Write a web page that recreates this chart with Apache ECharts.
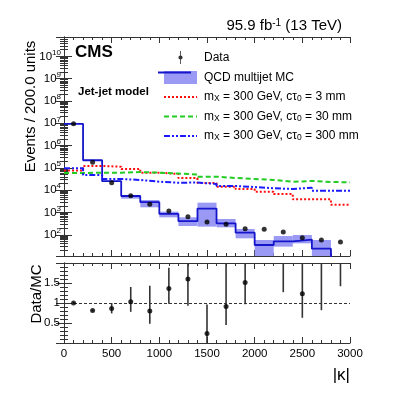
<!DOCTYPE html>
<html><head><meta charset="utf-8">
<script src="https://cdn.jsdelivr.net/npm/echarts@6/dist/echarts.min.js"></script>
<style>html,body{margin:0;padding:0;background:#fff}#c{width:407px;height:396px}</style>
</head><body><div id="c"></div>
<script>
// ---- data ----
const binLow  = [0,200,400,600,800,1000,1200,1400,1600,1800,2000,2200,2400,2600,2800];
const binHigh = [200,400,600,800,1000,1200,1400,1600,1800,2000,2200,2400,2600,2800,3000];
const binCenter = [100,300,500,700,900,1100,1300,1500,1700,1900,2100,2300,2500,2700,2900];
const dataEvents = [9.5e6,1.78e5,2.18e4,5690,2320,1167,650,370,295,188,176,134,74,58,48];
// last MC bin is empty (below the axis range)
const mcEvents = [9.5e6,2.2e5,2.55e4,5500,2900,860,410,1500,327,125,34.9,50.9,61,23.9,1];
const mcLow  = [9.1e6,2.12e5,2.45e4,4170,1706,607,248,232,216,69.5,1,29.4,41.4,1,1];
const mcHigh = [9.9e6,2.28e5,2.65e4,5890,3640,1090,607,2760,511,182,58.5,88,98,58.5,1];
const sig3mm   = [7.6e4,1.22e5,1.13e5,8.9e4,6.1e4,5.3e4,3.5e4,2.1e4,1.44e4,1.13e4,8.6e3,6.8e3,3.9e3,3.9e3,2.2e3];
const sig30mm  = [5.9e4,6.1e4,6.1e4,6.5e4,6.1e4,5.6e4,5.06e4,4.03e4,3.52e4,3.18e4,2.87e4,2.4e4,2.59e4,2.33e4,2.26e4];
const sig300mm = [9.6e4,4.8e4,3.18e4,2.87e4,2.4e4,2.17e4,2.2e4,1.9e4,1.54e4,1.39e4,1.22e4,1.13e4,1.29e4,9.5e3,9.5e3];
const ratioVal = [1.0,0.81,0.86,1.03,0.80,1.36,1.60,0.24,0.91,1.51,5.0,2.6,1.23,2.4,8.0];
const ratioLo  = [0.98,0.79,0.74,0.78,0.48,0.98,0.93,0.0,0.45,0.97,3.0,1.27,0.63,0.82,1.42];
const ratioHi  = [1.02,0.83,1.0,1.40,1.43,1.88,2.5,0.96,2.5,2.5,8.0,4.0,2.5,4.0,15];
const legendNames = ['Data','QCD multijet MC','mX = 300 GeV, cτ0 = 3 mm','mX = 300 GeV, cτ0 = 30 mm','mX = 300 GeV, cτ0 = 300 mm'];

// ---- styles ----
const FF = 'Liberation Sans';
const mcColor = '#1515cc';
const bandColor = '#9a9af5';
const frame = '#333';

function stepData(vals){ const d = binLow.map((l,i)=>[l, vals[i]]); d.push([binHigh[binHigh.length-1], vals[vals.length-1]]); return d; }

function clampY(y, cs){ return Math.min(Math.max(y, cs.y), cs.y + cs.height); }

function bandItem(params, api){
  const cs = params.coordSys;
  const a = api.coord([api.value(0), api.value(3)]);
  const b = api.coord([api.value(1), api.value(2)]);
  const y1 = clampY(a[1], cs), y2 = clampY(b[1], cs);
  if (y2 - y1 <= 0) return null;
  return {type:'rect', shape:{x:a[0], y:y1, width:b[0]-a[0], height:y2-y1}, style:{fill:bandColor}};
}
function errItem(params, api){
  const cs = params.coordSys;
  const a = api.coord([api.value(0), api.value(2)]);
  const b = api.coord([api.value(0), api.value(1)]);
  if (a[1] > cs.y + cs.height || b[1] < cs.y) return null;
  const y1 = clampY(a[1], cs), y2 = clampY(b[1], cs);
  return {type:'line', shape:{x1:a[0], y1:y1, x2:a[0], y2:y2}, style:{stroke:'#333', lineWidth:1.6}};
}

const logMin = Math.pow(10, 1.049), logMax = Math.pow(10, 10.87);

function baseAxisX(grid, showLabel, pos){
  return {type:'value', gridIndex:grid, min:0, max:3000, interval:500, position:pos,
    axisLine:{show:true, onZero:false, lineStyle:{color:frame, width:1}},
    axisTick:{show:true, inside:true, length:6, lineStyle:{color:frame}},
    minorTick:{show:true, splitNumber:5, length:3, lineStyle:{color:frame}},
    splitLine:{show:false},
    axisLabel:{show:showLabel, color:'#000', fontFamily:FF, fontSize:11.5, margin:5,
      formatter:function(v){ return String(v); }}};
}
function logAxisY(grid, pos, showLabel){
  return {type:'log', gridIndex:grid, min:logMin, max:logMax, logBase:10, splitNumber:10, position:pos,
    axisLine:{show:true, lineStyle:{color:frame, width:1}},
    axisTick:{show:true, inside:true, length:8, lineStyle:{color:frame}},
    minorTick:{show:true, splitNumber:9, length:4, lineStyle:{color:frame}},
    splitLine:{show:false},
    axisLabel:{show:showLabel, showMinLabel:false, showMaxLabel:false, margin:3,
      formatter:function(v){ return '{b|10}{e|' + Math.round(Math.log10(v)) + '}'; },
      rich:{b:{fontFamily:FF, fontSize:11.5, color:'#000', lineHeight:16}, e:{fontFamily:FF, fontSize:8, color:'#000', lineHeight:8, verticalAlign:'top'}}}};
}
function ratioAxisY(grid, pos, showLabel){
  return {type:'value', gridIndex:grid, min:0, max:2, interval:0.5, position:pos,
    axisLine:{show:true, lineStyle:{color:frame, width:1}},
    axisTick:{show:true, inside:true, length:8, lineStyle:{color:frame}},
    minorTick:{show:true, splitNumber:5, length:4, lineStyle:{color:frame}},
    splitLine:{show:false},
    axisLabel:{show:showLabel, showMinLabel:false, showMaxLabel:false, margin:4, color:'#000', fontFamily:FF, fontSize:11.5,
      formatter:function(v){ return String(v); }}};
}

const yUp = logAxisY(0, 'left', true);
yUp.name = 'Events / 200.0 units';
yUp.nameLocation = 'middle';
yUp.nameGap = 26;
yUp.nameMoveOverlap = false;
yUp.nameTextStyle = {fontFamily:FF, fontSize:15, color:'#000', padding:[0,0,0,80]};

const yLow = ratioAxisY(1, 'left', true);
yLow.name = 'Data/MC';
yLow.nameLocation = 'middle';
yLow.nameGap = 20;
yLow.nameMoveOverlap = false;
yLow.nameTextStyle = {fontFamily:FF, fontSize:15, color:'#000', padding:[0,0,0,18]};

const xLow = baseAxisX(1, true, 'bottom');
xLow.name = '|κ|';
xLow.nameLocation = 'end';
xLow.nameGap = 0;
xLow.nameMoveOverlap = false;
xLow.nameTextStyle = {fontFamily:FF, fontSize:17, color:'#000', align:'right', verticalAlign:'top', padding:[24,0,0,0]};

const legendRich = {t:{fontFamily:FF, fontSize:12, color:'#000', lineHeight:13}, s:{fontFamily:FF, fontSize:8.5, color:'#000', lineHeight:8, verticalAlign:'bottom'}};
function legendFmt(name){
  const m = name.match(/^mX = 300 GeV, cτ0 = (\d+) mm$/);
  if (m) return '{t|m}{s|X}{t| = 300 GeV, cτ}{s|0}{t| = ' + m[1] + ' mm}';
  return '{t|' + name + '}';
}
const noSymbol = {opacity:0};

const chart = echarts.init(document.getElementById('c'), null, {renderer:'canvas'});
chart.setOption({
  animation:false,
  backgroundColor:'#fff',
  title:{text:'95.9 fb{sup|-1} (13 TeV)', right:65, top:18, padding:0,
    textStyle:{fontFamily:FF, fontSize:15, fontWeight:'normal', color:'#000',
      rich:{sup:{fontFamily:FF, fontSize:10, color:'#000', lineHeight:9, verticalAlign:'top'}}}},
  grid:[{left:64, right:57, top:37, height:219}, {left:64, right:57, top:263, height:80}],
  xAxis:[baseAxisX(0,false,'bottom'), baseAxisX(0,false,'top'), xLow, baseAxisX(1,false,'top')],
  yAxis:[yUp, logAxisY(0,'right',false), yLow, ratioAxisY(1,'right',false)],
  legend:{orient:'vertical', left:158, top:46, itemWidth:33, itemHeight:13, itemGap:7, selectedMode:false,
    symbolKeepAspect:true, formatter:legendFmt,
    textStyle:{fontFamily:FF, fontSize:12, color:'#000', padding:[0,0,0,2], rich:legendRich},
    data:[
      {name:legendNames[0], icon:'path://M2.1,0H2.9V13H2.1Z M4.6,6.5A2.1,2.1,0,1,1,0.4,6.5A2.1,2.1,0,1,1,4.6,6.5Z', itemStyle:{color:'#000'}},
      {name:legendNames[1], icon:'rect', itemStyle:{color:bandColor, borderWidth:0}},
      {name:legendNames[2], itemStyle:noSymbol},
      {name:legendNames[3], itemStyle:noSymbol},
      {name:legendNames[4], itemStyle:noSymbol}]},
  graphic:[
    {type:'line', shape:{x1:158, y1:72.5, x2:191, y2:72.5}, style:{stroke:mcColor, lineWidth:2}, z:100, silent:true},
    {type:'text', left:75, top:44, style:{text:'CMS', fontFamily:FF, fontSize:17, fontWeight:'bold', fill:'#000'}},
    {type:'text', left:78, top:86, style:{text:'Jet-jet model', fontFamily:FF, fontSize:11.5, fontWeight:'bold', fill:'#000'}}
  ],
  series:[
    {name:legendNames[1], type:'custom', xAxisIndex:0, yAxisIndex:0, renderItem:bandItem, clip:true,
      encode:{x:[0,1], y:[2,3]}, data:binLow.map((l,i)=>[l, binHigh[i], mcLow[i], mcHigh[i]]), z:1},
    {name:'QCD line', type:'line', xAxisIndex:0, yAxisIndex:0, step:'end', symbol:'none', clip:true,
      lineStyle:{color:mcColor, width:1.8}, data:stepData(mcEvents), z:3},
    {name:legendNames[2], type:'line', xAxisIndex:0, yAxisIndex:0, step:'end', symbol:'none', clip:true,
      itemStyle:{color:'#ff1010'}, lineStyle:{color:'#ff1010', width:2, type:[2,2]}, data:stepData(sig3mm), z:4},
    {name:legendNames[3], type:'line', xAxisIndex:0, yAxisIndex:0, step:'end', symbol:'none', clip:true,
      itemStyle:{color:'#22cc22'}, lineStyle:{color:'#22cc22', width:2, type:[5,3]}, data:stepData(sig30mm), z:4},
    {name:legendNames[4], type:'line', xAxisIndex:0, yAxisIndex:0, step:'end', symbol:'none', clip:true,
      itemStyle:{color:'#1a1aff'}, lineStyle:{color:'#1a1aff', width:2, type:[6,2,2,2,2,2]}, data:stepData(sig300mm), z:4},
    {name:legendNames[0], type:'scatter', xAxisIndex:0, yAxisIndex:0, symbol:'circle', symbolSize:5, clip:true,
      itemStyle:{color:'#000'}, data:binCenter.map((c,i)=>[c, dataEvents[i]]), z:6},
    {name:'ratio err', type:'custom', xAxisIndex:2, yAxisIndex:2, renderItem:errItem, clip:true,
      encode:{x:0, y:[1,2]}, data:binCenter.map((c,i)=>[c, ratioLo[i], ratioHi[i]]), z:3},
    {name:'ratio', type:'scatter', xAxisIndex:2, yAxisIndex:2, symbol:'circle', symbolSize:5, clip:true,
      itemStyle:{color:'#000'}, data:binCenter.map((c,i)=>[c, ratioVal[i]]), z:5,
      markLine:{silent:true, symbol:'none', label:{show:false}, lineStyle:{color:'#333', width:1, type:[3,2]}, data:[{yAxis:1}]}}
  ]
});
</script></body></html>
